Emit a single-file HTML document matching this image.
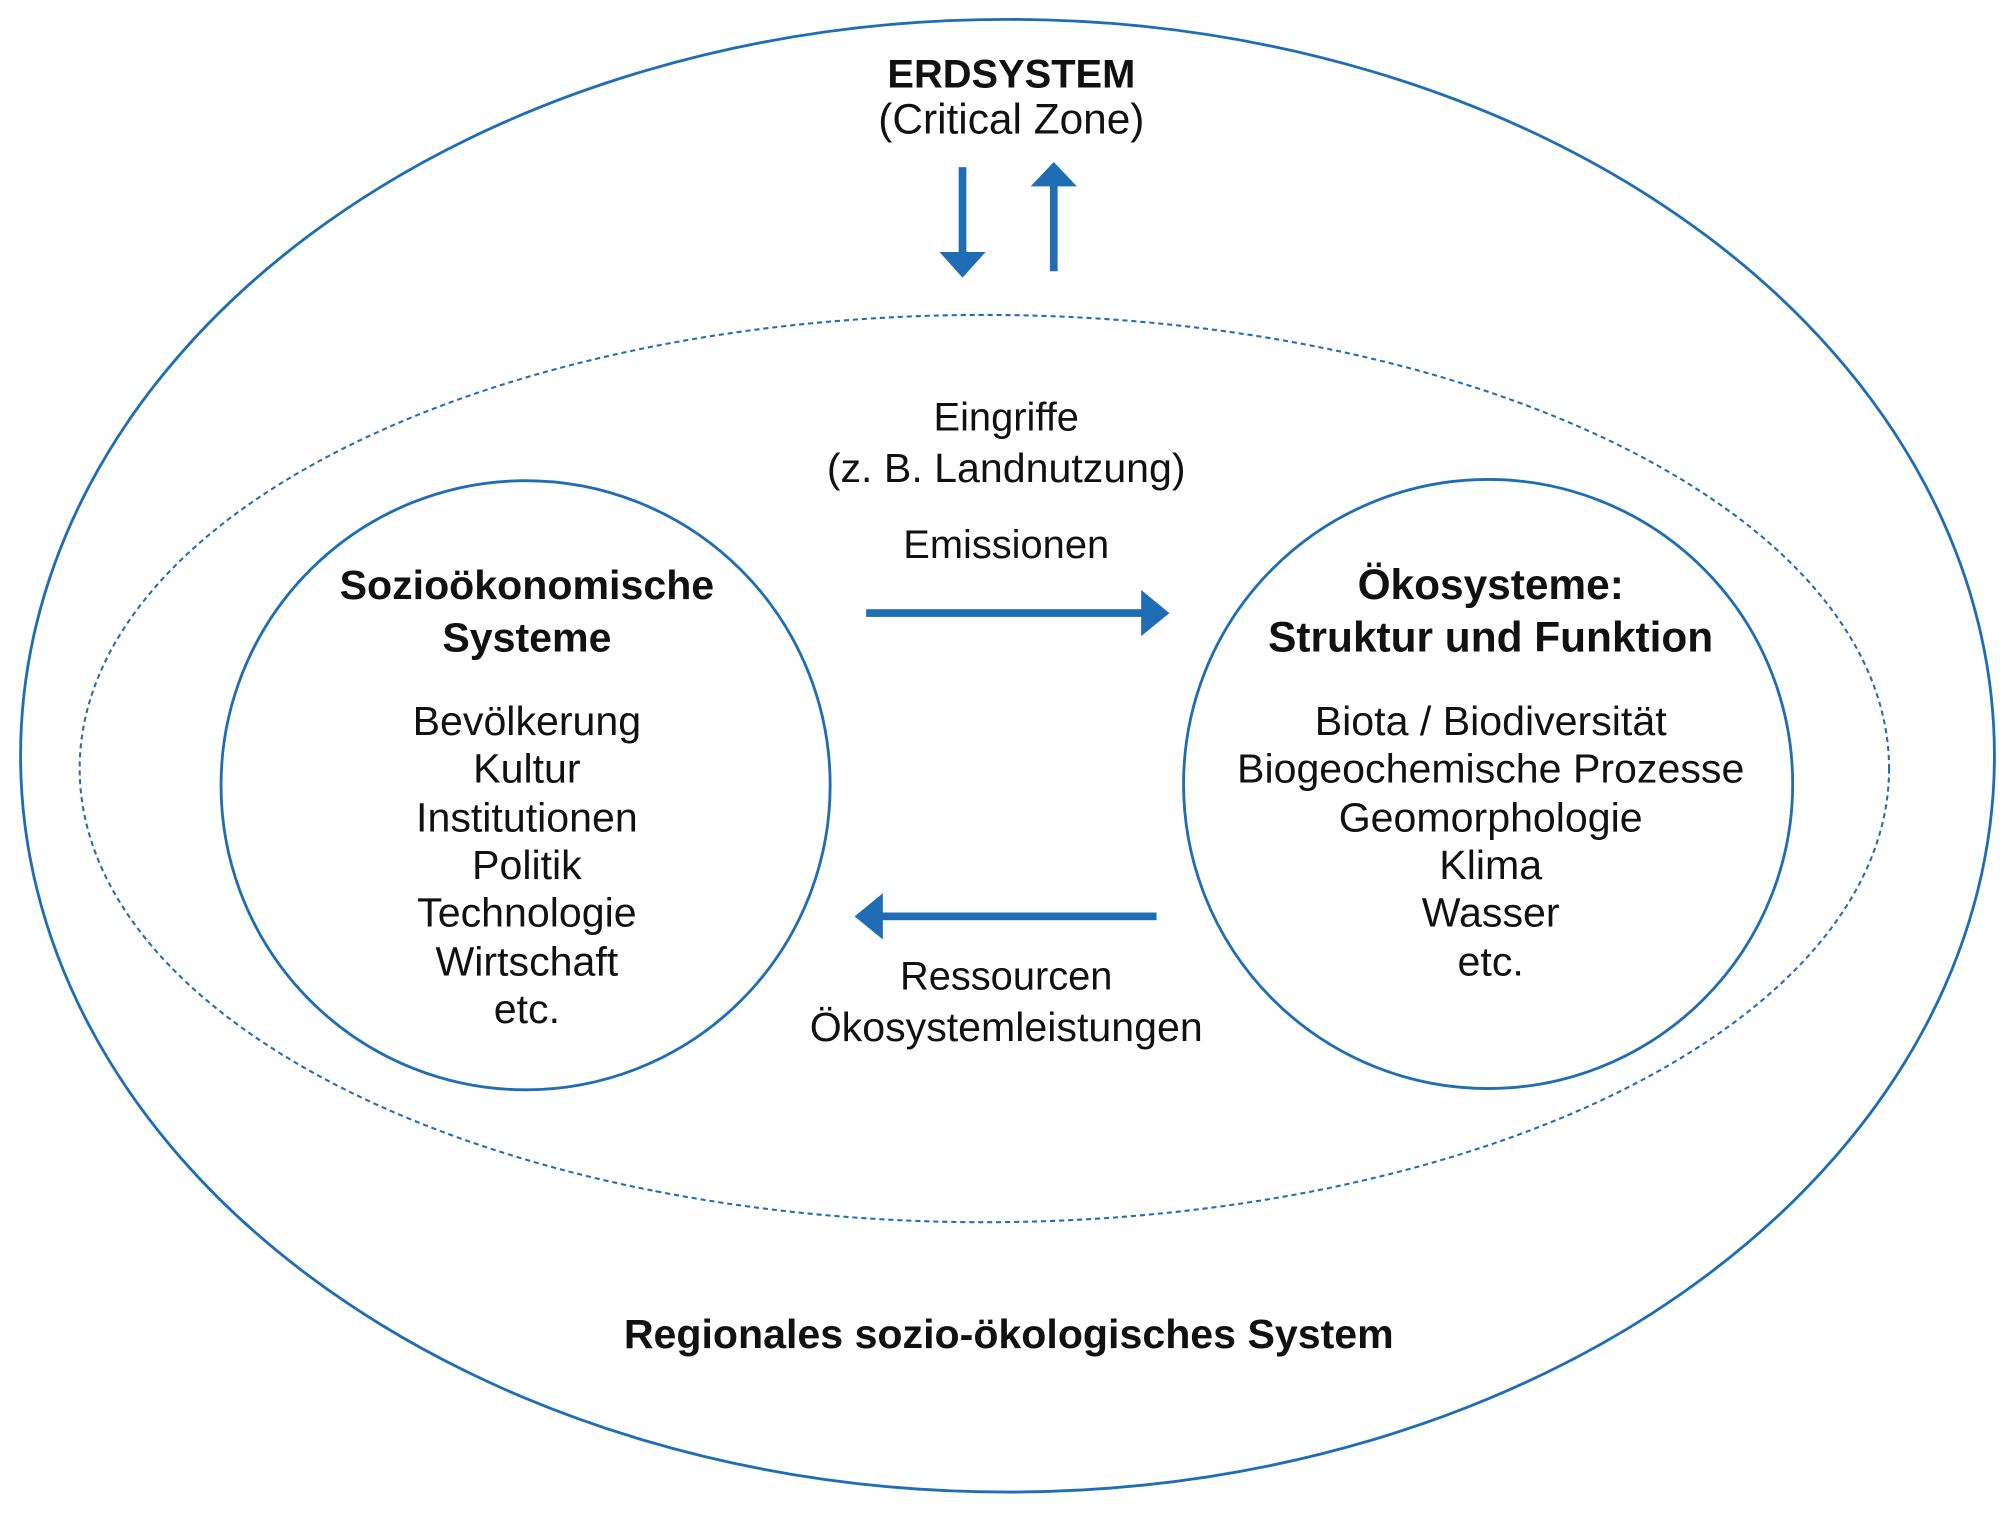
<!DOCTYPE html>
<html><head><meta charset="utf-8"><style>
html,body{margin:0;padding:0;background:#fff;}
svg{display:block;}
text{font-family:"Liberation Sans","DejaVu Sans",sans-serif;fill:#111;text-anchor:middle;}
.b{font-weight:bold;}
</style></head><body>
<svg width="2015" height="1514" viewBox="0 0 1568 1178" xmlns="http://www.w3.org/2000/svg">
<g fill="none" stroke="#1f6db5" stroke-width="2.2">
<ellipse cx="784" cy="588" rx="768" ry="573"/>
<ellipse cx="766" cy="598" rx="704" ry="353" stroke-dasharray="4,3" stroke-width="1.6"/>
<circle cx="409" cy="611" r="237"/>
<circle cx="1158" cy="610" r="237"/>
</g>
<g fill="#1f6db5" stroke="none">
<rect x="746" y="130" width="6" height="68"/>
<polygon points="731,196 767,196 749,216"/>
<rect x="817" y="143" width="6" height="68"/>
<polygon points="802,145 838,145 820,126"/>
<rect x="674" y="474" width="216" height="6"/>
<polygon points="888,459 888,495 910,477"/>
<rect x="685" y="710" width="215" height="6"/>
<polygon points="687,695 687,731 665,713"/>
</g>
<text x="787" y="68" class="b" font-size="31">ERDSYSTEM</text>
<text x="787" y="104" font-size="33">(Critical Zone)</text>
<text x="783" y="335" font-size="31">Eingriffe</text>
<text x="783" y="375" font-size="32">(z. B. Landnutzung)</text>
<text x="783" y="434" font-size="31">Emissionen</text>
<text x="783" y="770" font-size="31">Ressourcen</text>
<text x="783" y="810" font-size="32">Ökosystemleistungen</text>
<text x="410" y="466" class="b" font-size="32">Sozioökonomische</text>
<text x="410" y="507" class="b" font-size="32">Systeme</text>
<g font-size="32">
<text x="410" y="572">Bevölkerung</text>
<text x="410" y="609">Kultur</text>
<text x="410" y="647">Institutionen</text>
<text x="410" y="684">Politik</text>
<text x="410" y="721">Technologie</text>
<text x="410" y="759">Wirtschaft</text>
<text x="410" y="796">etc.</text>
</g>
<text x="1160" y="466" class="b" font-size="33">Ökosysteme:</text>
<text x="1160" y="507" class="b" font-size="33">Struktur und Funktion</text>
<g font-size="32">
<text x="1160" y="572">Biota / Biodiversität</text>
<text x="1160" y="609">Biogeochemische Prozesse</text>
<text x="1160" y="647">Geomorphologie</text>
<text x="1160" y="684">Klima</text>
<text x="1160" y="721">Wasser</text>
<text x="1160" y="759">etc.</text>
</g>
<text x="785" y="1049" class="b" font-size="32">Regionales sozio-ökologisches System</text>
</svg>
</body></html>
